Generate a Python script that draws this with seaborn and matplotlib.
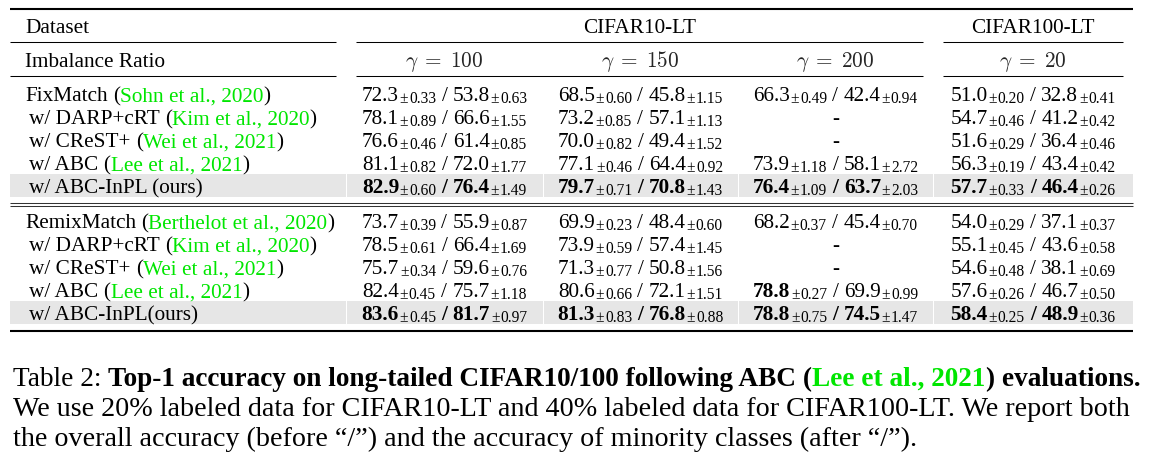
import matplotlib.pyplot as plt
import seaborn as sns

# table content
datasets = ["CIFAR10-LT", "CIFAR100-LT"]
dataset_spans = [(1, 4), (4, 5)]  # column index ranges
ratios = [100, 150, 200, 20]

fix_methods = ["FixMatch", "w/ DARP+cRT", "w/ CReST+", "w/ ABC", "w/ ABC-InPL (ours)"]
fix_cites = ["Sohn et al., 2020", "Kim et al., 2020", "Wei et al., 2021", "Lee et al., 2021", None]
# (overall, std, minority, std) per imbalance ratio
fix_acc = [
    [(72.3, 0.33, 53.8, 0.63), (68.5, 0.60, 45.8, 1.15), (66.3, 0.49, 42.4, 0.94), (51.0, 0.20, 32.8, 0.41)],
    [(78.1, 0.89, 66.6, 1.55), (73.2, 0.85, 57.1, 1.13), None, (54.7, 0.46, 41.2, 0.42)],
    [(76.6, 0.46, 61.4, 0.85), (70.0, 0.82, 49.4, 1.52), None, (51.6, 0.29, 36.4, 0.46)],
    [(81.1, 0.82, 72.0, 1.77), (77.1, 0.46, 64.4, 0.92), (73.9, 1.18, 58.1, 2.72), (56.3, 0.19, 43.4, 0.42)],
    [(82.9, 0.60, 76.4, 1.49), (79.7, 0.71, 70.8, 1.43), (76.4, 1.09, 63.7, 2.03), (57.7, 0.33, 46.4, 0.26)],
]

remix_methods = ["RemixMatch", "w/ DARP+cRT", "w/ CReST+", "w/ ABC", "w/ ABC-InPL(ours)"]
remix_cites = ["Berthelot et al., 2020", "Kim et al., 2020", "Wei et al., 2021", "Lee et al., 2021", None]
remix_acc = [
    [(73.7, 0.39, 55.9, 0.87), (69.9, 0.23, 48.4, 0.60), (68.2, 0.37, 45.4, 0.70), (54.0, 0.29, 37.1, 0.37)],
    [(78.5, 0.61, 66.4, 1.69), (73.9, 0.59, 57.4, 1.45), None, (55.1, 0.45, 43.6, 0.58)],
    [(75.7, 0.34, 59.6, 0.76), (71.3, 0.77, 50.8, 1.56), None, (54.6, 0.48, 38.1, 0.69)],
    [(82.4, 0.45, 75.7, 1.18), (80.6, 0.66, 72.1, 1.51), (78.8, 0.27, 69.9, 0.99), (57.6, 0.26, 46.7, 0.50)],
    [(83.6, 0.45, 81.7, 0.97), (81.3, 0.83, 76.8, 0.88), (78.8, 0.75, 74.5, 1.47), (58.4, 0.25, 48.9, 0.36)],
]

caption_lines = [
    [("Table 2:", "normal", "k"), ("Top-1 accuracy on long-tailed CIFAR10/100 following ABC (", "bold", "k"),
     ("Lee et al., 2021", "bold", "g"), (") evaluations.", "bold", "k")],
    [("We use 20% labeled data for CIFAR10-LT and 40% labeled data for CIFAR100-LT. We report both", "normal", "k")],
    [("the overall accuracy (before \u201c/\u201d) and the accuracy of minority classes (after \u201c/\u201d).", "normal", "k")],
]
caption_widths = [1126, 1120, None]

sns.set_theme(style="white")
plt.rcParams['font.family'] = ['Liberation Serif', 'DejaVu Serif']
plt.rcParams['mathtext.fontset'] = 'cm'

GREEN = "#00e600"
GRAY = "#e6e6e6"
FS = 15.3      # table font (pt)
FS_SUB = 11.2
PX = FS * 100 / 72

col_edges = [10, 346, 543, 738, 933, 1133]
row_pitch = 23

fig = plt.figure(figsize=(11.59, 4.6), dpi=100)
ax = fig.add_axes([0, 0, 1, 1])
ax.set_xlim(0, 1159)
ax.set_ylim(460, 0)
ax.axis('off')
renderer = fig.canvas.get_renderer()


def draw_runs(x, y, runs, ha='left'):
    # runs: dict(s, size, weight, color, gap, dy)
    placed = []
    cur = 0
    for r in runs:
        t = ax.text(0, y + r.get('dy', 0), r['s'], fontsize=r.get('size', FS),
                    fontweight=r.get('weight', 'normal'), color=r.get('color', 'black'),
                    va='baseline', ha='left')
        cur += r.get('gap', 0)
        placed.append((t, cur))
        cur += t.get_window_extent(renderer).width
    start = x if ha == 'left' else x - cur / 2
    for t, off in placed:
        t.set_x(start + off)
    return placed, cur


def hline(y, x0, x1, lw=0.75, color='black'):
    ax.plot([x0, x1], [y, y], color=color, lw=lw, solid_capstyle='butt')


def baseline(yc, size_pt=FS):
    return yc + 0.34 * size_pt * 100 / 72


sp = 0.25 * PX  # space width

# header
hline(9.5, col_edges[0], col_edges[-1], lw=1.5)
draw_runs(25, baseline(26), [dict(s="Dataset")])
for name, (a, b) in zip(datasets, dataset_spans):
    cx = (col_edges[a] + col_edges[b]) / 2
    draw_runs(cx, baseline(26), [dict(s=name)], ha='center')


def cmid_rules(y):
    hline(y, col_edges[0], col_edges[1] - 10)
    for a, b in dataset_spans:
        hline(y, col_edges[a] + 10, col_edges[b] - 10)


cmid_rules(43)
draw_runs(25, baseline(60), [dict(s="Imbalance Ratio")])
for j, g in enumerate(ratios):
    cx = (col_edges[j + 1] + col_edges[j + 2]) / 2
    ax.text(cx, baseline(60), r"$\gamma\;=\;%d$" % g, fontsize=FS, ha='center', va='baseline')
cmid_rules(77)


def draw_group(methods, cites, acc, y0):
    best_o = [max(r[j][0] for r in acc if r[j]) for j in range(len(ratios))]
    best_m = [max(r[j][2] for r in acc if r[j]) for j in range(len(ratios))]
    for i, (m, c, row) in enumerate(zip(methods, cites, acc)):
        yc = y0 + i * row_pitch
        yb = baseline(yc)
        if m.endswith("(ours)"):
            for j in range(len(col_edges) - 1):
                ax.fill_between([col_edges[j] + (0.5 if j else 0), col_edges[j + 1] - 0.5],
                                yc - 11.5, yc + 11.5, color=GRAY, lw=0, zorder=0)
        x = 25 if i == 0 else 29
        runs = [dict(s=m)]
        if c:
            runs += [dict(s="(", gap=sp), dict(s=c, color=GREEN), dict(s=")")]
        draw_runs(x, yb, runs)
        for j, cell in enumerate(row):
            cx = (col_edges[j + 1] + col_edges[j + 2]) / 2
            if cell is None:
                draw_runs(cx, yb, [dict(s="-")], ha='center')
                continue
            o, so, mi, sm = cell
            wo = 'bold' if o == best_o[j] else 'normal'
            wm = 'bold' if mi == best_m[j] else 'normal'
            ws = 'bold' if wo == wm == 'bold' else 'normal'
            draw_runs(cx, yb, [
                dict(s="%.1f" % o, weight=wo),
                dict(s="\u00b1", size=FS_SUB, dy=1.5, gap=0.8),
                dict(s="%.2f" % so, size=FS_SUB, dy=1.5, gap=0.8),
                dict(s="/", weight=ws, gap=sp),
                dict(s="%.1f" % mi, weight=wm, gap=sp),
                dict(s="\u00b1", size=FS_SUB, dy=1.5, gap=0.8),
                dict(s="%.2f" % sm, size=FS_SUB, dy=1.5, gap=0.8),
            ], ha='center')


draw_group(fix_methods, fix_cites, fix_acc, 94)
hline(203.5, col_edges[0], col_edges[-1], color='#333333')
hline(206.5, col_edges[0], col_edges[-1], color='#333333')
draw_group(remix_methods, remix_cites, remix_acc, 221)
hline(332, col_edges[0], col_edges[-1], lw=1.5)

# caption, each line sized to fit the text width
probe = ax.text(0, 0, caption_lines[1][0][0], fontsize=18)
cap_fs = 18 * 1120 / probe.get_window_extent(renderer).width
probe.remove()
for k, line in enumerate(caption_lines):
    runs = []
    for n, (s, w, c) in enumerate(line):
        runs.append(dict(s=s, weight=w, color=GREEN if c == "g" else "black",
                         size=cap_fs, gap=0.25 * cap_fs * 100 / 72 if (n == 1 and k == 0) else 0))
    placed, width = draw_runs(13, 386 + k * 30, runs)
    if caption_widths[k] and width > caption_widths[k]:
        for t, _ in placed:
            t.remove()
        scale = caption_widths[k] / width
        for r in runs:
            r['size'] *= scale
            r['gap'] *= scale
        draw_runs(13, 386 + k * 30, runs)

fig.savefig("out.png", dpi=100)
